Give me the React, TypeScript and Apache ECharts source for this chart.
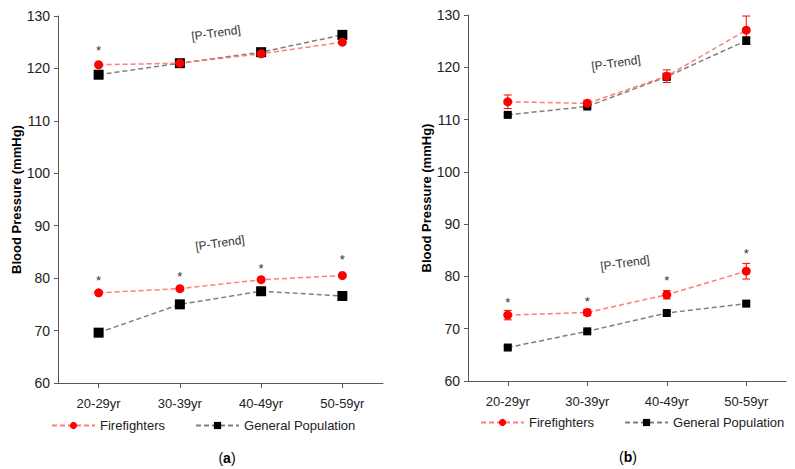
import React, { useEffect, useRef } from "react";
import * as echarts from "echarts";

const categories = ["20-29yr", "30-39yr", "40-49yr", "50-59yr"];

// Panel (a)
const aFireSys = [120.7, 121.0, 122.8, 125.0];
const aGenSys = [118.8, 121.0, 123.1, 126.4];
const aFireDia = [77.2, 78.0, 79.7, 80.5];
const aGenDia = [69.6, 75.0, 77.5, 76.6];
const aStars = [[0, 123.9], [0, 80.1], [1, 80.8], [2, 82.5], [3, 84.2]];

// Panel (b)
const bFireSys = [113.4, 113.1, 118.3, 127.1];
const bFireSysErr = [1.3, 0.6, 1.2, 2.7];
const bGenSys = [110.9, 112.5, 118.2, 125.1];
const bGenSysErr = [0.3, 0.3, 0.6, 0.7];
const bFireDia = [72.6, 73.1, 76.5, 81.0];
const bFireDiaErr = [0.9, 0.6, 0.8, 1.5];
const bGenDia = [66.4, 69.5, 73.0, 74.8];
const bGenDiaErr = [0.3, 0.3, 0.3, 0.3];
const bStars = [[0, 75.5], [1, 75.8], [2, 79.8], [3, 84.9]];

const FF_LINE = "#ff7c7c";
const FF_MARK = "#ff0000";
const GP_LINE = "#7f7f7f";
const GP_MARK = "#000000";
const FONT = "Liberation Sans, Arial, sans-serif";

function lineSeries(name: string, data: number[], idx: number, ff: boolean, symSize: number) {
  return {
    type: "line",
    name,
    xAxisIndex: idx,
    yAxisIndex: idx,
    data,
    symbol: ff ? "circle" : "rect",
    symbolSize: symSize,
    itemStyle: { color: ff ? FF_MARK : GP_MARK },
    lineStyle: { color: ff ? FF_LINE : GP_LINE, width: 1.5, type: [5, 3] },
    z: ff ? 4 : 3,
  };
}

function errSeries(vals: number[], errs: number[], idx: number, color: string) {
  return {
    type: "custom",
    xAxisIndex: idx,
    yAxisIndex: idx,
    z: 2,
    data: vals.map((v, i) => [i, v - errs[i], v + errs[i]]),
    renderItem: (params: any, api: any) => {
      const x = api.value(0);
      const lo = api.coord([x, api.value(1)]);
      const hi = api.coord([x, api.value(2)]);
      const w = 4;
      const st = { stroke: color, lineWidth: 1 };
      return {
        type: "group",
        children: [
          { type: "line", shape: { x1: lo[0], y1: lo[1], x2: hi[0], y2: hi[1] }, style: st },
          { type: "line", shape: { x1: hi[0] - w, y1: hi[1], x2: hi[0] + w, y2: hi[1] }, style: st },
          { type: "line", shape: { x1: lo[0] - w, y1: lo[1], x2: lo[0] + w, y2: lo[1] }, style: st },
        ],
      };
    },
  };
}

function starSeries(stars: number[][], idx: number) {
  return {
    type: "custom",
    xAxisIndex: idx,
    yAxisIndex: idx,
    z: 5,
    data: stars,
    renderItem: (params: any, api: any) => {
      const p = api.coord([api.value(0), api.value(1)]);
      return {
        type: "text",
        x: p[0],
        y: p[1] + 3,
        style: {
          text: "*",
          fill: "#333",
          font: `13px ${FONT}`,
          align: "center",
          verticalAlign: "middle",
        },
      };
    },
  };
}

export default function App() {
  const ref = useRef<HTMLDivElement>(null);
  useEffect(() => {
    if (!ref.current) return;
    const chart = echarts.init(ref.current, null, { renderer: "svg" });
    const axisLine = { show: true, lineStyle: { color: "#595959", width: 1 } };
    const mkX = (gi: number) => ({
      type: "category",
      gridIndex: gi,
      data: categories,
      boundaryGap: true,
      axisLine,
      axisTick: { show: true, alignWithLabel: true, lineStyle: { color: "#595959" }, length: 5 },
      axisLabel: { color: "#222", fontSize: 13, fontFamily: FONT, margin: 14 },
    });
    const mkY = (gi: number) => ({
      type: "value",
      gridIndex: gi,
      min: 60,
      max: 130,
      interval: 10,
      axisLine,
      axisTick: { show: true, lineStyle: { color: "#595959" }, length: 4 },
      splitLine: { show: false },
      axisLabel: { color: "#222", fontSize: 14, fontFamily: FONT, margin: 8 },
      name: "Blood Pressure (mmHg)",
      nameLocation: "middle",
      nameGap: 34,
      nameTextStyle: { fontSize: 13, fontWeight: "bold", fontFamily: FONT, color: "#000" },
    });
    const legendCommon = {
      orient: "horizontal",
      padding: 0,
      itemWidth: 43,
      itemHeight: 9,
      itemGap: 30,
      textStyle: { fontSize: 13, fontFamily: FONT, color: "#222" },
      data: ["Firefighters", "General Population"],
    };
    const ptrend = (x: number, y: number) => ({
      type: "text",
      x,
      y,
      rotation: 0.14,
      style: { text: "[P-Trend]", font: `12px ${FONT}`, fill: "#333", align: "center", verticalAlign: "middle" },
    });
    const caption = (x: number, y: number, letter: string) => ({
      type: "text",
      x,
      y,
      style: {
        text: "({b|" + letter + "})",
        font: `14px ${FONT}`,
        fill: "#000",
        align: "center",
        verticalAlign: "middle",
        rich: { b: { fontWeight: "bold", fontSize: 14, fontFamily: FONT } },
      },
    });
    chart.setOption({
      animation: false,
      backgroundColor: "#fff",
      grid: [
        { left: 58, right: 412, top: 16, bottom: 86 },
        { left: 468, right: 9, top: 15, bottom: 88 },
      ],
      xAxis: [mkX(0), mkX(1)],
      yAxis: [mkY(0), mkY(1)],
      legend: [
        { ...legendCommon, left: 51, top: 419 },
        { ...legendCommon, left: 480, top: 416 },
      ],
      graphic: [
        ptrend(216, 33),
        ptrend(220, 243),
        ptrend(616, 63),
        ptrend(625, 263),
        caption(227, 458, "a"),
        caption(628, 457, "b"),
      ],
      series: [
        lineSeries("Firefighters", aFireSys, 0, true, 9),
        lineSeries("General Population", aGenSys, 0, false, 10),
        lineSeries("Firefighters", aFireDia, 0, true, 9),
        lineSeries("General Population", aGenDia, 0, false, 10),
        starSeries(aStars, 0),
        errSeries(bFireSys, bFireSysErr, 1, FF_MARK),
        errSeries(bGenSys, bGenSysErr, 1, GP_MARK),
        errSeries(bFireDia, bFireDiaErr, 1, FF_MARK),
        errSeries(bGenDia, bGenDiaErr, 1, GP_MARK),
        lineSeries("Firefighters", bFireSys, 1, true, 9),
        lineSeries("General Population", bGenSys, 1, false, 8),
        lineSeries("Firefighters", bFireDia, 1, true, 9),
        lineSeries("General Population", bGenDia, 1, false, 8),
        starSeries(bStars, 1),
      ],
    });
    return () => chart.dispose();
  }, []);
  return <div ref={ref} style={{ position: "absolute", left: 0, top: 0, width: 795, height: 469 }} />;
}
